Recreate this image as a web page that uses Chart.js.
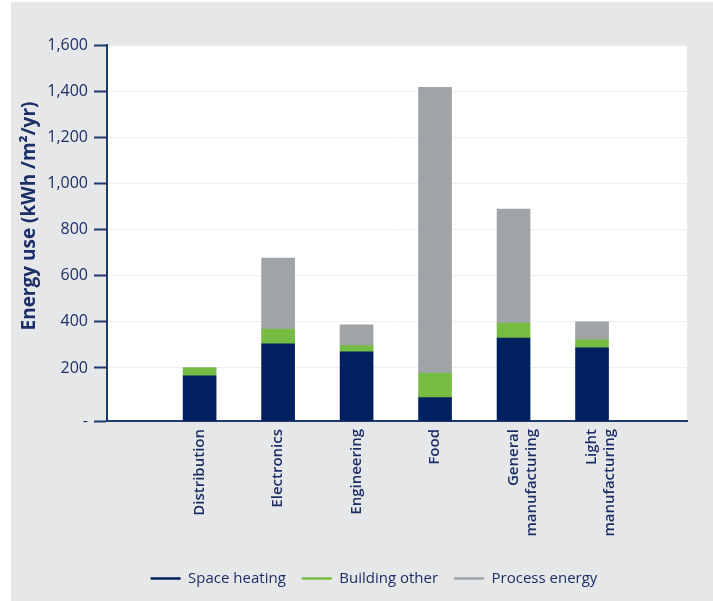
<!DOCTYPE html>
<html>
<head>
<meta charset="utf-8">
<script src="https://cdn.jsdelivr.net/npm/chart.js@4"></script>
<style>
  body { margin: 0; background: #fff; }
  #panel { position: absolute; left: 11px; top: 2px; width: 702px; height: 599px; background: #e6e7e9; }
  canvas { display: block; }
</style>
</head>
<body>
<div id="panel"><canvas id="energyChart" width="702" height="599"></canvas></div>
<script>
// Energy use by sector, kWh/m²/yr
const categories = ['Distribution', 'Electronics', 'Engineering', 'Food', ['General', 'manufacturing'], ['Light', 'manufacturing']];
const spaceHeating = [166, 304, 270, 71, 330, 287];
const buildingOther = [34, 65, 27, 107, 65, 35];
const processEnergy = [0, 307, 90, 1239, 494, 78];

const yMin = -30;
const yTicks = [yMin, 200, 400, 600, 800, 1000, 1200, 1400, 1600];

const NAVY_TEXT = '#1b2f66';
const AXIS_LINE = '#1f396f';
const FONT = "'Open Sans', 'Noto Sans', sans-serif";

const toPoints = (values) => values.map((v, i) => ({ x: i + 1, y: v }));

// white plot panel behind the bars, rotated y title, legend nudged under the plot
const panelPlugin = {
    id: 'panel',
    afterLayout(chart) {
        if (chart.legend) {
            chart.legend.left += 25;
            chart.legend.right += 25;
        }
    },
    beforeDraw(chart) {
        const { ctx, chartArea: a } = chart;
        ctx.save();
        ctx.fillStyle = '#ffffff';
        ctx.fillRect(a.left, a.top, a.right - a.left, a.bottom - a.top);
        ctx.restore();
    },
    afterDraw(chart) {
        const ctx = chart.ctx;
        ctx.save();
        ctx.translate(19, 214);
        ctx.rotate(-Math.PI / 2);
        ctx.font = `bold 19px ${FONT}`;
        ctx.fillStyle = NAVY_TEXT;
        ctx.textAlign = 'center';
        ctx.textBaseline = 'middle';
        ctx.fillText('Energy use (kWh /m²/yr)', 0, 0);
        ctx.restore();
    }
};

new Chart(document.getElementById('energyChart'), {
    type: 'bar',
    data: {
        datasets: [
            { label: 'Space heating', data: toPoints(spaceHeating), backgroundColor: '#002060', base: yMin },
            { label: 'Building other', data: toPoints(buildingOther), backgroundColor: '#76bc43' },
            { label: 'Process energy', data: toPoints(processEnergy), backgroundColor: '#a1a4a7' }
        ]
    },
    options: {
        responsive: false,
        animation: false,
        barThickness: 33,
        layout: { padding: { top: 43, right: 26, left: 0, bottom: 5 } },
        scales: {
            x: {
                type: 'linear',
                stacked: true,
                offset: false,
                min: -0.18,
                max: 7.21,
                afterBuildTicks: (scale) => { scale.ticks = categories.map((c, i) => ({ value: i + 1 })); },
                afterFit: (scale) => { scale.height = 134; },
                grid: { display: false, drawTicks: false, offset: false },
                border: { display: true, color: AXIS_LINE, width: 2 },
                ticks: {
                    autoSkip: false,
                    minRotation: 90,
                    maxRotation: 90,
                    padding: 8,
                    color: NAVY_TEXT,
                    font: { family: FONT, size: 15, weight: '600' },
                    callback: (v) => categories[v - 1]
                }
            },
            y: {
                stacked: true,
                min: yMin,
                max: 1600,
                afterBuildTicks: (scale) => { scale.ticks = yTicks.map(v => ({ value: v })); },
                afterFit: (scale) => { scale.width = 96; },
                grid: { color: '#efefef', lineWidth: 1, tickLength: 13, tickColor: AXIS_LINE, tickWidth: 2 },
                border: { display: true, color: AXIS_LINE, width: 2 },
                ticks: {
                    padding: 6,
                    color: NAVY_TEXT,
                    font: { family: FONT, size: 16 },
                    callback: (v) => v <= 0 ? '-' : v.toLocaleString('en-US')
                }
            }
        },
        plugins: {
            tooltip: { enabled: false },
            legend: {
                position: 'bottom',
                labels: {
                    usePointStyle: true,
                    pointStyle: 'line',
                    pointStyleWidth: 30,
                    padding: 16,
                    color: NAVY_TEXT,
                    font: { family: FONT, size: 15 },
                    generateLabels: (chart) => chart.data.datasets.map((ds, i) => ({
                        text: ds.label,
                        fillStyle: ds.backgroundColor,
                        strokeStyle: ds.backgroundColor,
                        lineWidth: 2.5,
                        pointStyle: 'line',
                        fontColor: NAVY_TEXT,
                        hidden: false,
                        datasetIndex: i
                    }))
                }
            }
        }
    },
    plugins: [panelPlugin]
});
</script>
</body>
</html>
